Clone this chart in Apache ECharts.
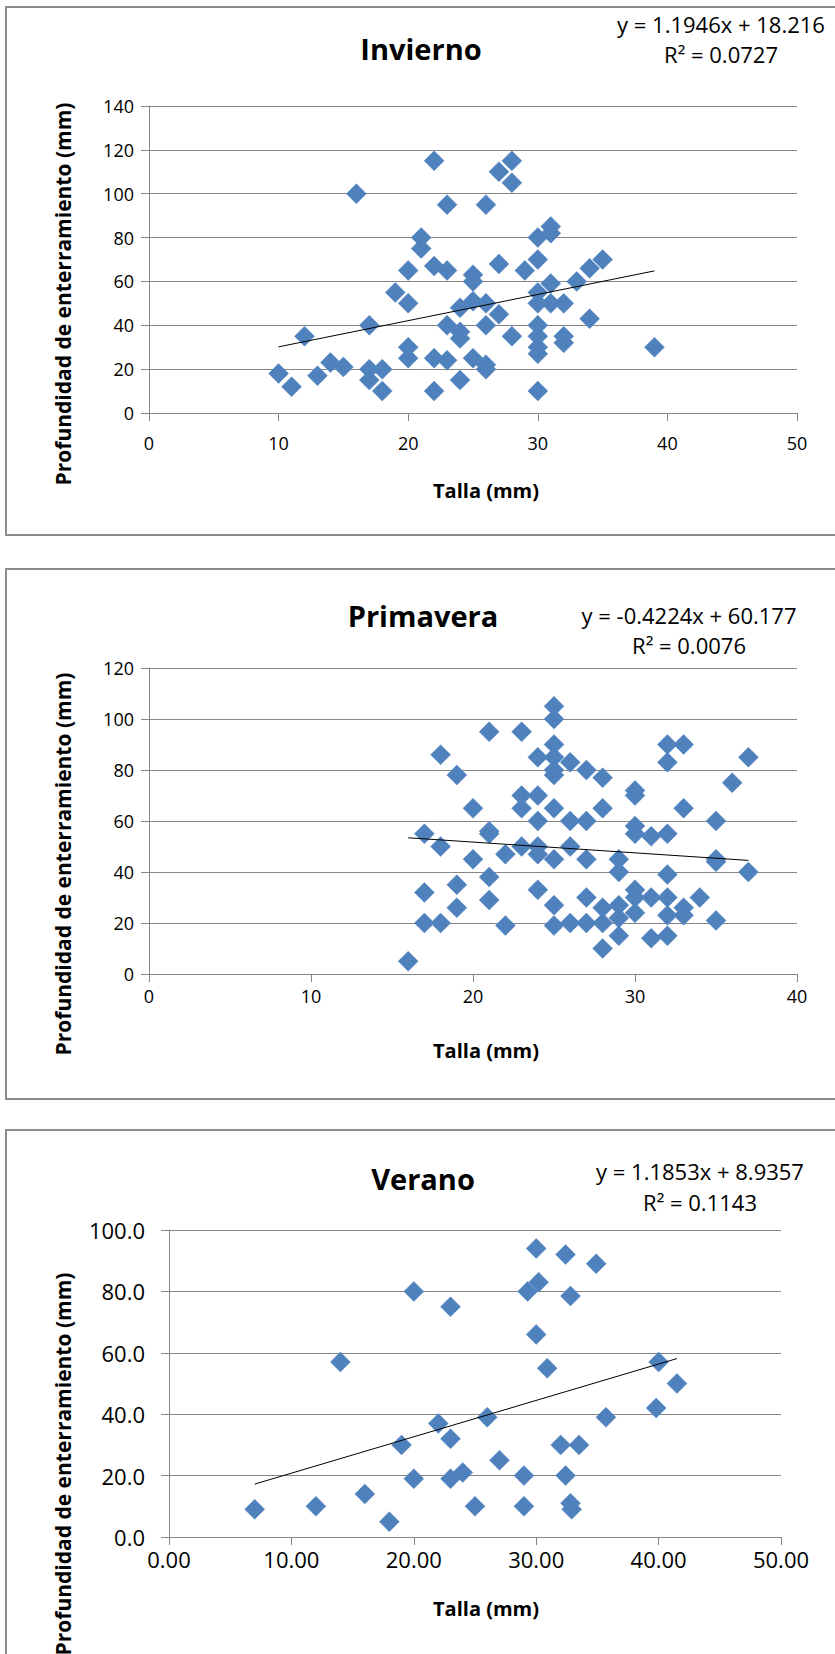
<!DOCTYPE html>
<html>
<head>
<meta charset="utf-8">
<script src="https://cdn.jsdelivr.net/npm/echarts@6/dist/echarts.min.js"></script>
<style>
html,body{margin:0;padding:0;background:#fff;}
#c{width:835px;height:1654px;}
</style>
</head>
<body>
<div id="c"></div>
<script>
// ---------- DATA ----------
const titles = ['Invierno', 'Primavera', 'Verano'];
const xAxisName = 'Talla (mm)';
const yAxisName = 'Profundidad de enterramiento (mm)';

const inviernoTalla = [10,11,12,13,14,15,16,17,17,17,18,18,19,20,20,20,20,21,21,22,22,22,22,23,23,23,23,24,24,24,24,25,25,25,25,26,26,26,26,26,27,27,27,28,28,28,29,30,30,30,30,30,30,30,30,30,31,31,31,31,32,32,32,33,34,34,35,39];
const inviernoProf  = [18,12,35,17,23,21,100,40,20,15,20,10,55,65,50,30,25,80,75,115,67,25,10,95,65,40,24,48,37,34,15,63,60,51,25,95,50,40,22,20,110,68,45,115,105,35,65,80,70,55,50,40,35,30,27,10,85,82,59,50,50,35,32,60,66,43,70,30];

const primaveraTalla = [16,17,17,17,18,18,18,19,19,19,20,20,21,21,21,21,21,22,22,23,23,23,23,24,24,24,24,24,24,25,25,25,25,25,25,25,25,25,25,26,26,26,26,27,27,27,27,27,28,28,28,28,28,29,29,29,29,29,30,30,30,30,30,30,30,31,31,31,32,32,32,32,32,32,32,33,33,33,33,34,35,35,35,35,36,37,37];
const primaveraProf  = [5,55,32,20,86,50,20,78,35,26,65,45,95,56,55,38,29,47,19,95,70,65,50,85,70,60,50,47,33,105,100,90,85,80,78,65,45,27,19,83,60,50,20,80,60,45,30,20,77,65,26,20,10,45,40,27,22,15,72,70,58,55,33,30,24,54,30,14,90,83,55,39,30,23,15,90,65,26,23,30,60,45,44,21,75,85,40];

const veranoTalla = [7,12,14,16,18,19,20,20,22,23,23,23,24,25,26,27,29,29,29.3,30.2,30,30,30.9,32,32.4,32.4,32.8,32.8,32.9,33.5,34.9,35.7,39.8,40,41.5];
const veranoProf  = [9,10,57,14,5,30,80,19,37,75,32,19,21,10,39,25,10,20,80,83,94,66,55,30,92,20,78.5,11,9,30,89,39,42,57,50];

// trendline coefficients (slope, intercept) and R² as printed
const trendSlope = [1.1946, -0.4224, 1.1853];
const trendIntercept = [18.216, 60.177, 8.9357];
const rSquared = ['0.0727', '0.0076', '0.1143'];
const eqLabels = ['y = 1.1946x + 18.216', 'y = -0.4224x + 60.177', 'y = 1.1853x + 8.9357'];

const xMax = [50, 40, 50];
const yMax = [140, 120, 100];
const xDecimals = [0, 0, 2];
const yDecimals = [0, 0, 1];

// ---------- LAYOUT ----------
const FONT = "'Open Sans', 'Noto Sans', sans-serif";
const gridBoxes = [
  {left:149, top:106, width:648, height:307},
  {left:149, top:668, width:648, height:306},
  {left:169, top:1230, width:612, height:307}
];
const frames = [[6,7,528],[6,569,530],[6,1130,560]];
const titlePos = [[421,48],[423,615],[423,1178]];
const eqPos = [[721,24,54],[689,615,645],[700,1171,1202]];
const yNamePos = [[63,294],[63,864],[63,1464]];
const xNamePos = [[486,490],[486,1050],[486,1608]];
const tickFont = [18,18,22];
const xLabelMargin = [21,13,11];
const yLabelMargin = [15,15,24];

const AX = '#868686';
const datasets = [[inviernoTalla, inviernoProf],[primaveraTalla, primaveraProf],[veranoTalla, veranoProf]];

const grid = [], xAxis = [], yAxis = [], series = [], graphic = [];
for (let i = 0; i < 3; i++) {
  grid.push(Object.assign({containLabel:false}, gridBoxes[i]));
  xAxis.push({
    type:'value', gridIndex:i, min:0, max:xMax[i], interval:10,
    axisLine:{show:true, onZero:false, lineStyle:{color:AX, width:1}},
    axisTick:{show:true, inside:false, length:8, lineStyle:{color:AX}},
    splitLine:{show:false},
    axisLabel:{color:'#000', fontSize:tickFont[i], fontFamily:FONT, margin:xLabelMargin[i],
      formatter: (v) => v.toFixed(xDecimals[i])}
  });
  yAxis.push({
    type:'value', gridIndex:i, min:0, max:yMax[i], interval:20,
    axisLine:{show:true, lineStyle:{color:AX, width:1}},
    axisTick:{show:true, inside:false, length:8, lineStyle:{color:AX}},
    splitLine:{show:true, lineStyle:{color:AX, width:1}},
    axisLabel:{color:'#000', fontSize:tickFont[i], fontFamily:FONT, margin:yLabelMargin[i],
      formatter: (v) => v.toFixed(yDecimals[i])}
  });
  const xs = datasets[i][0], ys = datasets[i][1];
  series.push({
    type:'scatter', xAxisIndex:i, yAxisIndex:i,
    data: xs.map((x, k) => [x, ys[k]]),
    symbol:'diamond', symbolSize:20,
    itemStyle:{color:'#4F81BD', borderColor:'#5A8AC6', borderWidth:0.5, opacity:1},
    z:2
  });
  const x0 = Math.min(...xs), x1 = Math.max(...xs);
  series.push({
    type:'line', xAxisIndex:i, yAxisIndex:i,
    data:[[x0, trendSlope[i]*x0 + trendIntercept[i]], [x1, trendSlope[i]*x1 + trendIntercept[i]]],
    symbol:'none', lineStyle:{color:'#000', width:1}, z:3, silent:true
  });
  // frame
  graphic.push({type:'rect', shape:{x:frames[i][0], y:frames[i][1], width:860, height:frames[i][2]},
    style:{fill:'none', stroke:'#8c8c8c', lineWidth:2}, z:-10});
  // title
  graphic.push({type:'text', x:titlePos[i][0], y:titlePos[i][1],
    style:{text:titles[i], fill:'#000', font:"bold 29px " + FONT, align:'center', verticalAlign:'middle'}});
  // equation + R2
  graphic.push({type:'text', x:eqPos[i][0], y:eqPos[i][1],
    style:{text:eqLabels[i], fill:'#000', font:"22px " + FONT, align:'center', verticalAlign:'middle'}});
  graphic.push({type:'text', x:eqPos[i][0], y:eqPos[i][2],
    style:{text:'R\u00B2 = ' + rSquared[i], fill:'#000', font:"22px " + FONT, align:'center', verticalAlign:'middle'}});
  // axis names
  graphic.push({type:'text', x:yNamePos[i][0], y:yNamePos[i][1], rotation:Math.PI/2,
    style:{text:yAxisName, fill:'#000', font:"bold 21px " + FONT, align:'center', verticalAlign:'middle'}});
  graphic.push({type:'text', x:xNamePos[i][0], y:xNamePos[i][1],
    style:{text:xAxisName, fill:'#000', font:"bold 20px " + FONT, align:'center', verticalAlign:'middle'}});
}

const chart = echarts.init(document.getElementById('c'), null, {renderer:'svg'});
chart.setOption({animation:false, grid, xAxis, yAxis, series, graphic});
</script>
</body>
</html>
